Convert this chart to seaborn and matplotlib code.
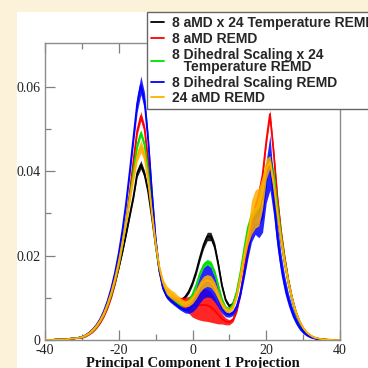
import matplotlib
matplotlib.use("Agg")
import matplotlib.pyplot as plt
import numpy as np
import pandas as pd
import seaborn as sns
from matplotlib.patches import Rectangle

# ---------------- data ----------------
x_vals = list(range(-40, 41))

tail_left = [0.0, 0.0, 0.0, 0.0001, 0.0001, 0.0001, 0.0002, 0.0003, 0.0004, 0.0005]

black_y = tail_left + [
    0.0007, 0.0011, 0.0017, 0.0025, 0.0035, 0.0048, 0.0065, 0.0086, 0.0110, 0.0138,
    0.0172, 0.0210, 0.0252, 0.0296, 0.0340, 0.0395, 0.0415, 0.0392, 0.0350, 0.0290,
    0.0225, 0.0168, 0.0128, 0.0106, 0.0096, 0.0092, 0.0091, 0.0095, 0.0102, 0.0115,
    0.0135, 0.0162, 0.0195, 0.0225, 0.0245, 0.0245, 0.0222, 0.0178, 0.0128, 0.0094,
    0.0080, 0.0086, 0.0110, 0.0150, 0.0200, 0.0240, 0.0272, 0.0295, 0.0305, 0.0345,
    0.0405, 0.0420, 0.0375, 0.0300, 0.0238, 0.0183, 0.0136, 0.0097, 0.0066, 0.0043,
    0.0027, 0.0016, 0.0009, 0.0005, 0.0003, 0.0002, 0.0001, 0.0, 0.0, 0.0, 0.0]

red_y = tail_left + [
    0.0006, 0.0009, 0.0014, 0.0021, 0.0030, 0.0042, 0.0058, 0.0078, 0.0103, 0.0135,
    0.0175, 0.0225, 0.0283, 0.0350, 0.0425, 0.0495, 0.0530, 0.0500, 0.0420, 0.0320,
    0.0230, 0.0165, 0.0125, 0.0105, 0.0097, 0.0093, 0.0091, 0.0089, 0.0086, 0.0083,
    0.0082, 0.0082, 0.0083, 0.0083, 0.0082, 0.0078, 0.0070, 0.0060, 0.0050, 0.0044,
    0.0042, 0.0048, 0.0070, 0.0110, 0.0165, 0.0225, 0.0280, 0.0315, 0.0345, 0.0390,
    0.0470, 0.0535, 0.0445, 0.0340, 0.0258, 0.0195, 0.0142, 0.0100, 0.0068, 0.0045,
    0.0028, 0.0017, 0.0010, 0.0006, 0.0003, 0.0002, 0.0001, 0.0, 0.0, 0.0, 0.0]

green_y = tail_left + [
    0.0007, 0.0010, 0.0016, 0.0023, 0.0033, 0.0046, 0.0063, 0.0084, 0.0110, 0.0142,
    0.0180, 0.0227, 0.0280, 0.0338, 0.0400, 0.0460, 0.0490, 0.0462, 0.0395, 0.0310,
    0.0228, 0.0165, 0.0126, 0.0106, 0.0096, 0.0091, 0.0087, 0.0084, 0.0085, 0.0092,
    0.0108, 0.0130, 0.0157, 0.0177, 0.0184, 0.0180, 0.0160, 0.0128, 0.0095, 0.0076,
    0.0073, 0.0085, 0.0115, 0.0160, 0.0215, 0.0265, 0.0295, 0.0305, 0.0320, 0.0355,
    0.0410, 0.0435, 0.0395, 0.0320, 0.0248, 0.0188, 0.0138, 0.0097, 0.0066, 0.0043,
    0.0027, 0.0016, 0.0009, 0.0005, 0.0003, 0.0002, 0.0001, 0.0, 0.0, 0.0, 0.0]

blue_y = tail_left + [
    0.0007, 0.0011, 0.0017, 0.0025, 0.0036, 0.0050, 0.0069, 0.0093, 0.0123, 0.0160,
    0.0205, 0.0260, 0.0325, 0.0400, 0.0480, 0.0560, 0.0603, 0.0565, 0.0470, 0.0350,
    0.0240, 0.0165, 0.0122, 0.0103, 0.0094, 0.0087, 0.0080, 0.0074, 0.0070, 0.0072,
    0.0082, 0.0100, 0.0120, 0.0135, 0.0140, 0.0136, 0.0120, 0.0097, 0.0075, 0.0063,
    0.0060, 0.0064, 0.0080, 0.0110, 0.0155, 0.0205, 0.0250, 0.0275, 0.0272, 0.0290,
    0.0375, 0.0420, 0.0335, 0.0245, 0.0180, 0.0132, 0.0096, 0.0068, 0.0047, 0.0031,
    0.0020, 0.0012, 0.0007, 0.0004, 0.0002, 0.0001, 0.0, 0.0, 0.0, 0.0, 0.0]

orange_y = tail_left + [
    0.0007, 0.0011, 0.0016, 0.0024, 0.0034, 0.0047, 0.0064, 0.0086, 0.0113, 0.0146,
    0.0185, 0.0230, 0.0280, 0.0333, 0.0385, 0.0435, 0.0458, 0.0435, 0.0375, 0.0300,
    0.0228, 0.0172, 0.0136, 0.0118, 0.0110, 0.0104, 0.0097, 0.0090, 0.0086, 0.0088,
    0.0096, 0.0110, 0.0126, 0.0137, 0.0141, 0.0138, 0.0125, 0.0105, 0.0084, 0.0072,
    0.0069, 0.0078, 0.0105, 0.0150, 0.0200, 0.0245, 0.0290, 0.0310, 0.0315, 0.0350,
    0.0405, 0.0422, 0.0370, 0.0300, 0.0238, 0.0183, 0.0136, 0.0097, 0.0067, 0.0045,
    0.0029, 0.0018, 0.0011, 0.0006, 0.0004, 0.0002, 0.0001, 0.0001, 0.0, 0.0, 0.0]

err_tail = [0.0] * 10

black_err = err_tail + [
    0.0002, 0.0002, 0.0002, 0.0003, 0.0003, 0.0003, 0.0004, 0.0004, 0.0004, 0.0005,
    0.0005, 0.0005, 0.0006, 0.0006, 0.0007, 0.0009, 0.0010, 0.0009, 0.0007, 0.0006,
    0.0005, 0.0004, 0.0004, 0.0004, 0.0004, 0.0004, 0.0004, 0.0004, 0.0004, 0.0005,
    0.0006, 0.0007, 0.0008, 0.0009, 0.0010, 0.0010, 0.0009, 0.0008, 0.0006, 0.0005,
    0.0004, 0.0004, 0.0005, 0.0005, 0.0006, 0.0006, 0.0007, 0.0007, 0.0008, 0.0008,
    0.0008, 0.0008, 0.0008, 0.0007, 0.0006, 0.0005, 0.0005, 0.0004, 0.0003, 0.0003,
    0.0002, 0.0002, 0.0001, 0.0001, 0.0001, 0.0, 0.0, 0.0, 0.0, 0.0, 0.0]

red_err = err_tail + [
    0.0002, 0.0002, 0.0002, 0.0003, 0.0003, 0.0003, 0.0004, 0.0004, 0.0004, 0.0005,
    0.0005, 0.0005, 0.0006, 0.0006, 0.0007, 0.0009, 0.0011, 0.0009, 0.0007, 0.0006,
    0.0005, 0.0005, 0.0005, 0.0006, 0.0007, 0.0008, 0.0010, 0.0012, 0.0015, 0.0020,
    0.0028, 0.0032, 0.0036, 0.0038, 0.0038, 0.0036, 0.0030, 0.0022, 0.0012, 0.0008,
    0.0006, 0.0005, 0.0005, 0.0006, 0.0006, 0.0007, 0.0008, 0.0009, 0.0010, 0.0010,
    0.0010, 0.0010, 0.0009, 0.0008, 0.0007, 0.0006, 0.0005, 0.0004, 0.0003, 0.0003,
    0.0002, 0.0002, 0.0001, 0.0001, 0.0001, 0.0, 0.0, 0.0, 0.0, 0.0, 0.0]

green_err = err_tail + [
    0.0002, 0.0002, 0.0002, 0.0003, 0.0003, 0.0003, 0.0004, 0.0004, 0.0004, 0.0005,
    0.0005, 0.0005, 0.0006, 0.0006, 0.0006, 0.0007, 0.0008, 0.0007, 0.0006, 0.0006,
    0.0005, 0.0004, 0.0004, 0.0004, 0.0004, 0.0004, 0.0004, 0.0004, 0.0004, 0.0005,
    0.0005, 0.0006, 0.0006, 0.0007, 0.0007, 0.0007, 0.0007, 0.0006, 0.0005, 0.0005,
    0.0004, 0.0004, 0.0005, 0.0005, 0.0006, 0.0007, 0.0008, 0.0008, 0.0008, 0.0008,
    0.0008, 0.0008, 0.0008, 0.0007, 0.0006, 0.0005, 0.0005, 0.0004, 0.0003, 0.0003,
    0.0002, 0.0002, 0.0001, 0.0001, 0.0001, 0.0, 0.0, 0.0, 0.0, 0.0, 0.0]

blue_err = err_tail + [
    0.0002, 0.0002, 0.0002, 0.0003, 0.0003, 0.0003, 0.0004, 0.0004, 0.0005, 0.0005,
    0.0006, 0.0007, 0.0008, 0.0010, 0.0015, 0.0020, 0.0022, 0.0020, 0.0015, 0.0010,
    0.0008, 0.0006, 0.0005, 0.0005, 0.0005, 0.0005, 0.0005, 0.0005, 0.0006, 0.0009,
    0.0015, 0.0025, 0.0032, 0.0036, 0.0038, 0.0036, 0.0030, 0.0020, 0.0012, 0.0008,
    0.0006, 0.0006, 0.0007, 0.0008, 0.0010, 0.0013, 0.0018, 0.0025, 0.0030, 0.0035,
    0.0050, 0.0065, 0.0040, 0.0030, 0.0025, 0.0020, 0.0015, 0.0012, 0.0009, 0.0007,
    0.0005, 0.0003, 0.0002, 0.0001, 0.0001, 0.0, 0.0, 0.0, 0.0, 0.0, 0.0]

orange_err = err_tail + [
    0.0002, 0.0002, 0.0002, 0.0003, 0.0003, 0.0003, 0.0004, 0.0004, 0.0004, 0.0005,
    0.0005, 0.0006, 0.0007, 0.0008, 0.0010, 0.0013, 0.0015, 0.0013, 0.0010, 0.0008,
    0.0007, 0.0007, 0.0009, 0.0010, 0.0010, 0.0010, 0.0009, 0.0008, 0.0007, 0.0008,
    0.0010, 0.0012, 0.0013, 0.0014, 0.0014, 0.0014, 0.0013, 0.0011, 0.0008, 0.0006,
    0.0005, 0.0005, 0.0007, 0.0010, 0.0014, 0.0020, 0.0040, 0.0045, 0.0045, 0.0040,
    0.0025, 0.0015, 0.0015, 0.0012, 0.0010, 0.0008, 0.0006, 0.0005, 0.0004, 0.0003,
    0.0002, 0.0002, 0.0001, 0.0001, 0.0001, 0.0, 0.0, 0.0, 0.0, 0.0, 0.0]

series_names = [
    "8 aMD x 24 Temperature REMD",
    "8 aMD REMD",
    "8 Dihedral Scaling x 24\n   Temperature REMD",
    "8 Dihedral Scaling REMD",
    "24 aMD REMD",
]
series_colors = ["#000000", "#ff0000", "#00e000", "#0000ff", "#ffb000"]

x_ticks = [-40, -20, 0, 20, 40]
x_tick_labels = ["-40", "-20", "0", "20", "40"]
y_ticks = [0, 0.02, 0.04, 0.06]
y_tick_labels = ["0", "0.02", "0.04", "0.06"]
x_label = "Principal Component 1 Projection"

# ---------------- figure ----------------
sns.set_style("white")
plt.rcParams["axes.unicode_minus"] = False

fig = plt.figure(figsize=(3.68, 3.68), dpi=100)
fig.patch.set_facecolor("#fcf2da")
panel = Rectangle((17 / 368, 0), 1, 1 - 12 / 368, transform=fig.transFigure,
                  facecolor="white", edgecolor="none", zorder=-10)
fig.add_artist(panel)
ax = fig.add_axes([45 / 368, 1 - 340 / 368, 295 / 368, 297 / 368])
ax.set_zorder(1)
ax.set_facecolor("white")

rows = []
all_y = [black_y, red_y, green_y, blue_y, orange_y]
all_e = [black_err, red_err, green_err, blue_err, orange_err]
for name, ys, es in zip(series_names, all_y, all_e):
    for xv, yv, ev in zip(x_vals, ys, es):
        rows.append({"x": xv, "y": yv, "err": ev, "series": name})
df = pd.DataFrame(rows)

for i, (name, col) in enumerate(zip(series_names, series_colors)):
    sub = df[df["series"] == name]
    ax.fill_between(sub["x"], sub["y"] - sub["err"], sub["y"] + sub["err"],
                    color=col, alpha=0.85, linewidth=0, zorder=2 + 2 * i)
    sns.lineplot(data=sub, x="x", y="y", color=col, linewidth=1.3, ax=ax,
                 label=name, zorder=3 + 2 * i, estimator=None)

ax.set_xlim(-40, 40)
ax.set_ylim(0, 0.0703)
ax.set_xticks(x_ticks)
ax.set_xticklabels(x_tick_labels)
ax.set_xticks([-30, -10, 10, 30], minor=True)
ax.set_yticks(y_ticks)
ax.set_yticklabels(y_tick_labels)
ax.set_yticks([0.01, 0.03, 0.05], minor=True)
ax.tick_params(axis="both", which="both", direction="in", colors="#808080",
               labelcolor="#222222", width=0.9)
ax.tick_params(axis="x", which="both", top=True, bottom=True)
ax.tick_params(axis="y", which="both", left=True, right=False)
ax.tick_params(which="major", length=7, pad=3)
ax.tick_params(which="minor", length=4)
for lab in ax.get_xticklabels() + ax.get_yticklabels():
    lab.set_fontfamily("Liberation Serif")
    lab.set_fontsize(10)
for s in ax.spines.values():
    s.set_color("#8c8c8c")
    s.set_linewidth(1.0)
ax.set_xlabel(x_label, fontfamily="Liberation Serif", fontweight="bold",
              fontsize=10.5, labelpad=0, color="#111111")
ax.set_ylabel("")

handles, labels = ax.get_legend_handles_labels()
leg = ax.legend(handles, labels, loc="upper left",
                bbox_to_anchor=(147 / 368, 1 - 12 / 368), bbox_transform=fig.transFigure,
                borderaxespad=0, frameon=True, fancybox=False,
                prop={"family": "Liberation Sans", "weight": "bold", "size": 10},
                handlelength=0.9, handletextpad=0.6, labelspacing=0.12,
                borderpad=0.3)
leg.get_texts()[2].set_linespacing(0.85)
leg.get_frame().set_edgecolor("#666666")
leg.get_frame().set_linewidth(1.0)
leg.get_frame().set_alpha(1)
leg.set_zorder(20)
for line in leg.get_lines():
    line.set_linewidth(1.3)

fig.savefig("out.png", dpi=100, facecolor=fig.get_facecolor())
